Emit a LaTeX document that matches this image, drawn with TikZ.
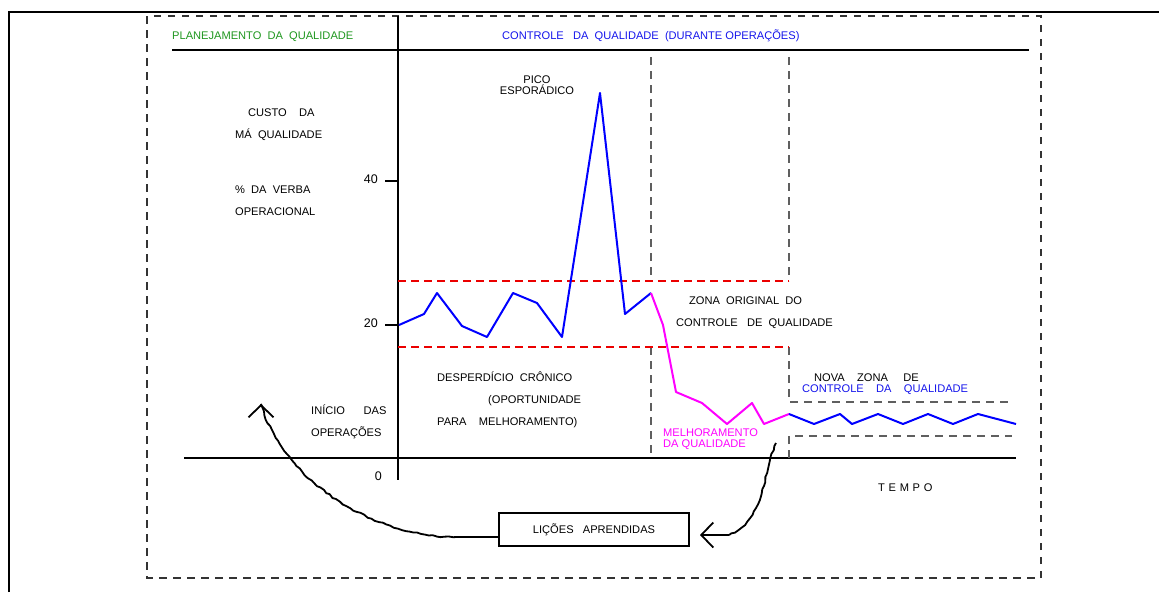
\documentclass[tikz,border=0pt]{standalone}
\usepackage{fontspec}
\setmainfont{Liberation Sans}
\usetikzlibrary{arrows.meta,decorations.pathmorphing,calc}
\definecolor{planGreen}{RGB}{30,150,30}
\definecolor{ctrlBlue}{RGB}{0,0,255}
\definecolor{ctrlText}{RGB}{20,20,235}
\definecolor{impMagenta}{RGB}{255,0,255}
\definecolor{zoneRed}{RGB}{235,0,0}
\definecolor{guideGray}{RGB}{95,95,95}
\begin{document}
\begin{tikzpicture}[x=1pt,y=-1pt,
  lbl/.style={anchor=base west,inner sep=0pt,font=\fontsize{11.1}{12}\selectfont},
  num/.style={anchor=base east,inner sep=0pt,font=\fontsize{12.5}{14}\selectfont},
  heavy/.style={line width=2pt,black},
  frameline/.style={line width=2.6pt,black},
  outerdash/.style={line width=1.3pt,black!80,dash pattern=on 7.5pt off 6.5pt},
  guide/.style={line width=1.8pt,guideGray,dash pattern=on 8pt off 6pt},
  zone/.style={line width=1.2pt,zoneRed,dash pattern=on 8pt off 5pt},
  series/.style={line width=2pt,line join=round},
  wig/.style={line width=1.8pt,black,decorate,
    decoration={random steps,segment length=4pt,amplitude=0.8pt}},
  barb/.style={line width=1.8pt,black,-{Straight Barb[length=12pt,width=25pt,line width=1.8pt]}},
  lessonbox/.style={draw,line width=2pt,minimum width=190pt,minimum height=33pt,inner sep=0pt,
    font=\fontsize{11.1}{12}\selectfont}
]
\pgfmathsetseed{7}
\useasboundingbox (0,0) rectangle (1159,592);

% outer frame and dashed page border
\draw[frameline] (9,592) -- (9,12) -- (1159,12);
\draw[outerdash] (147,16) rectangle (1041,578);

% header bar and axes
\draw[heavy] (172,50) -- (1029,50);
\draw[heavy] (398,16) -- (398,480);
\draw[heavy] (184,458) -- (1016,458);
\draw[heavy] (385,181) -- (398,181);
\draw[heavy] (385,325) -- (398,325);

% header titles
\node[lbl,text=planGreen] (tplan) at (172,39) {PLANEJAMENTO\ \ DA\ \ QUALIDADE};
\node[lbl,text=ctrlText] (tctrl) at (502,39) {CONTROLE\ \ \ DA\ \ QUALIDADE\ \ (DURANTE OPERAÇÕES)};

% axis captions
\node[lbl] (ycap1) at (248,116) {CUSTO\ \ \ \ DA};
\node[lbl] (ycap2) at (235,138) {MÁ\ \ QUALIDADE};
\node[lbl] (ycap3) at (235,193) {\%\ \ DA\ \ VERBA};
\node[lbl] (ycap4) at (235,215) {OPERACIONAL};
\node[num] (n40) at (378,183) {40};
\node[num] (n20) at (378,327) {20};
\node[num] (n0) at (382,480) {0};
\node[lbl] (tempo) at (878,491) {T\,\,E\,\,M\,\,P\,\,O};

% zone guides
\draw[guide] (651,57) -- (651,281);
\draw[guide] (789,57) -- (789,281);
\draw[guide] (651,347) -- (651,458);
\draw[guide] (789,347) -- (789,402) -- (1012,402);
\draw[guide] (789,458) -- (789,436) -- (1012,436);
\draw[zone] (398,281) -- (789,281);
\draw[zone] (398,347) -- (789,347);

% cost series
\draw[series,ctrlBlue] (399,325) -- (424,314) -- (437,293) -- (462,326) -- (487,337)
  -- (513,293) -- (537,303) -- (562,337) -- (600,93) -- (625,314) -- (651,293);
\draw[series,impMagenta] (651,293) -- (663,325) -- (676,392) -- (702,403) -- (727,424)
  -- (752,403) -- (764,424) -- (789,414);
\draw[series,ctrlBlue] (789,414) -- (814,424) -- (840,414) -- (852,424) -- (878,414)
  -- (903,424) -- (928,414) -- (953,424) -- (978,414) -- (1016,424);

% labels in the chart
\node[lbl,anchor=base] (pico1) at (537,83) {PICO};
\node[lbl,anchor=base] (pico2) at (537,94) {ESPORÁDICO};
\node[lbl] (zo1) at (689,304) {ZONA\ \ ORIGINAL\ \ DO};
\node[lbl] (zo2) at (676,326) {CONTROLE\ \ \ DE\ \ QUALIDADE};
\node[lbl] (dc1) at (437,381) {DESPERDÍCIO\ \ CRÔNICO};
\node[lbl] (dc2) at (488,403) {(OPORTUNIDADE};
\node[lbl] (dc3) at (437,425) {PARA\ \ \ \ MELHORAMENTO)};
\node[lbl,text=impMagenta] (mq1) at (663,436) {MELHORAMENTO};
\node[lbl,text=impMagenta] (mq2) at (663,447) {DA QUALIDADE};
\node[lbl] (nz1) at (814,381) {NOVA\ \ \ \ ZONA\ \ \ \ \ DE};
\node[lbl,text=ctrlText] (nz2) at (802,392) {CONTROLE\ \ \ \ DA\ \ \ \ QUALIDADE};
\node[lbl] (io1) at (311,414) {INÍCIO\ \ \ \ \ \ DAS};
\node[lbl] (io2) at (311,436) {OPERAÇÕES};

% lessons learned feedback loop
\node[lessonbox] (licoes) at (594,529.5) {LIÇÕES\ \ \ APRENDIDAS};
\coordinate (kneeL) at (457,537);
\coordinate (tipL) at (261,404);
\coordinate (startR) at (776,443);
\coordinate (kneeR) at (729,535);
\coordinate (tipR) at (700,535);

\draw[line width=1.8pt] (licoes.west |- kneeL) -- (kneeL);
\draw[wig] (kneeL) .. controls (370,537) and (282,478) .. (tipL);
\draw[barb] ($(tipL)+(0,3)$) -- (tipL);
\draw[wig] (startR) .. controls (762,478) and (764,520) .. (kneeR);
\draw[barb] (kneeR) -- (tipR);
\end{tikzpicture}
\end{document}
